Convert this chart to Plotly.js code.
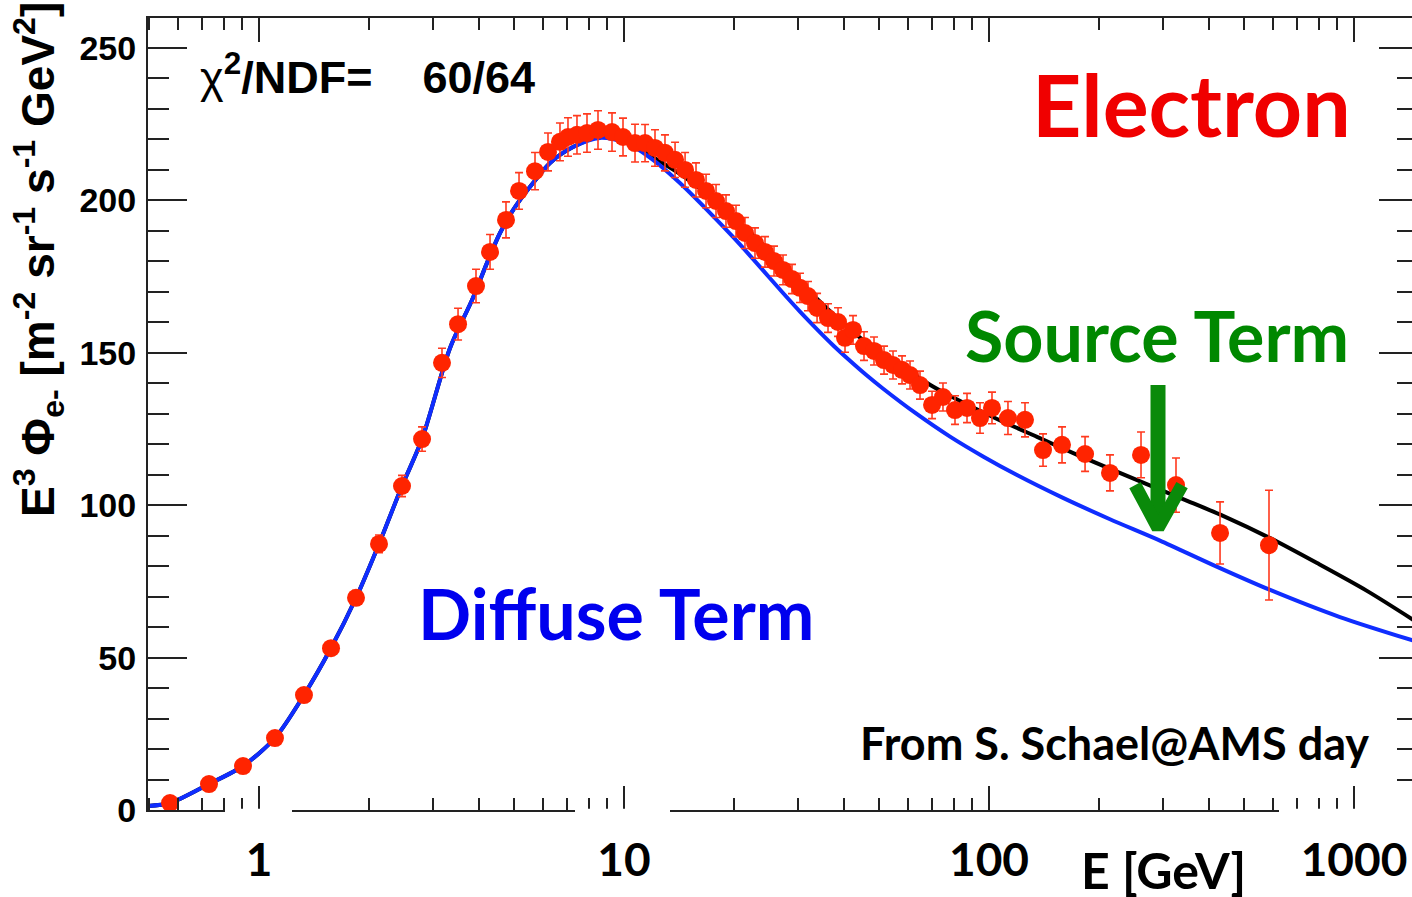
<!DOCTYPE html>
<html><head><meta charset="utf-8">
<script src="https://cdn.plot.ly/plotly-3.0.1.min.js"></script>
<style>html,body{margin:0;padding:0;overflow:hidden;background:#fff}#chart{width:1420px;height:897px}</style>
</head><body><div id="chart"></div>
<script>
// AMS electron data: E^3 * flux
const energy = [0.5705,0.7295,0.9042,1.106,1.328,1.575,1.844,2.132,2.465,2.797,3.172,3.510,3.931,4.295,4.750,5.157,5.704,6.191,6.677,7.023,7.433,7.918,8.487,9.271,9.937,10.72,11.42,12.16,12.95,13.80,14.70,15.75,16.78,17.87,19.03,20.27,21.45,22.85,24.34,25.76,27.27,28.86,30.35,31.92,33.80,36.22,38.58,40.32,42.41,45.45,48.41,51.57,54.58,57.77,60.76,64.71,69.81,74.80,80.69,87.04,94.48,101.9,112.7,125.5,140.6,158.5,183.3,214.5,260.9,325.3,429.5,584.9];
const flux = [2.3,8.5,14.4,23.6,37.7,53.1,69.6,87.3,106.3,121.7,146.7,159.4,171.9,183.1,193.6,203.1,209.6,215.9,219.2,220.8,221.5,222.1,223.1,222.4,220.8,218.8,218.8,217.2,215.6,213.3,210.0,206.7,203.1,199.8,196.5,193.2,189.3,186.0,183.1,180.1,177.2,174.2,171.3,168.6,164.7,161.4,160.1,154.9,157.5,152.2,150.6,147.6,146.0,144.4,142.7,139.4,132.9,135.5,131.2,131.9,128.6,131.9,128.6,128.0,118.1,119.8,116.8,110.6,116.5,106.6,90.9,86.9];
const fluxErr = [0.6,0.8,1.0,1.3,1.6,2.0,2.4,2.9,3.5,4.0,4.8,5.2,5.5,5.7,5.9,6.0,6.1,6.2,6.2,6.3,6.3,6.3,6.3,6.3,6.2,6.2,6.1,6.0,5.9,5.8,5.7,5.6,5.5,5.4,5.3,5.2,5.1,5.0,5.0,4.9,4.9,4.8,4.8,4.8,4.8,4.7,4.7,4.7,4.7,4.7,4.6,4.6,4.6,4.6,4.6,4.6,4.5,4.6,4.7,4.8,5.0,5.2,5.4,5.6,5.3,5.9,5.7,5.9,7.5,8.9,10.2,18.0];

// Diffuse term (blue curve)
const diffuseE = [0.4965,0.5705,0.7295,0.9042,1.106,1.328,1.575,1.844,2.132,2.465,2.797,3.337,3.834,4.214,4.574,5.028,5.633,6.27,7.25,8.60,10.19,12.01,14.23,16.88,19.89,23.58,27.27,30.35,33.80,37.38,41.6,46.03,51.2,63.1,78.2,96.3,119.3,159.5,214.5,294,416,589,915,1497];
const diffuseFlux = [1.31,2.30,8.53,14.44,23.62,37.73,53.15,69.55,87.27,106.3,121.7,151.6,167.3,179.5,189.3,197.8,205.7,212.3,217.5,220.5,218.8,213.3,205.7,196.9,188.0,178.2,169.6,163.5,157.7,152.5,147.4,142.8,138.3,130.1,122.5,116.0,109.9,102.4,95.4,88.4,80.1,72.2,63.3,55.1];

// Diffuse + source (black curve)
const totalE = [0.4965,0.5705,0.7295,0.9042,1.106,1.328,1.575,1.844,2.132,2.465,2.797,3.337,3.834,4.214,4.574,5.028,5.633,6.27,7.25,8.60,10.19,12.01,14.23,16.88,19.89,23.58,27.27,31.92,37.38,43.77,51.2,60.76,69.81,82.3,105.2,135.4,177.6,238.8,340,437.7,588.8,791.9,1085,1497];
const totalFlux = [1.31,2.30,8.53,14.44,23.62,37.73,53.15,69.55,87.27,106.3,121.7,151.6,167.3,179.5,189.3,197.8,205.7,212.3,217.5,220.8,219.2,214.2,208.7,202.1,194.6,186.4,179.1,170.6,162.7,155.5,149.3,143.7,139.1,134.5,128.3,122.4,116.1,109.6,102.0,96.5,89.2,81.0,71.9,61.4];

// Source-term arrow (green)
const arrowShaftE = [290.4, 290.4];
const arrowShaftFlux = [139.4, 96];
const arrowHeadE = [251.2, 290.4, 338];
const arrowHeadFlux = [106.6, 92.5, 106.6];

const xTickVals = [1, 10, 100, 1000];
const xTickText = ['<b>1</b>', '<b>10</b>', '<b>100</b>', '<b>1000</b>'];
const yTickVals = [0, 50, 100, 150, 200, 250];

const PL = 148, PW = 1270, PB = 810, PH = 792;
const px = v => (v - PL) / PW;
const py = v => (PB - v) / PH;

const traces = [
  {x: totalE, y: totalFlux, type: 'scatter', mode: 'lines', line: {color: '#000000', width: 4, shape: 'spline', smoothing: 0.8}, hoverinfo: 'skip'},
  {x: diffuseE, y: diffuseFlux, type: 'scatter', mode: 'lines', line: {color: '#0f2dff', width: 4, shape: 'spline', smoothing: 0.8}, hoverinfo: 'skip'},
  {x: energy, y: flux, type: 'scatter', mode: 'markers',
   marker: {color: '#ff2400', size: 18, line: {width: 0}},
   error_y: {type: 'data', array: fluxErr, visible: true, color: '#ff3a1f', thickness: 1.6, width: 4}},
  {x: arrowShaftE, y: arrowShaftFlux, type: 'scatter', mode: 'lines', line: {color: '#0a8a0a', width: 15}, hoverinfo: 'skip'},
  {x: arrowHeadE, y: arrowHeadFlux, type: 'scatter', mode: 'lines', line: {color: '#0a8a0a', width: 13}, hoverinfo: 'skip'}
];

const axisCommon = {showline: true, linecolor: '#222', linewidth: 2, mirror: 'allticks', ticks: 'inside', tickcolor: '#222', tickwidth: 2, showgrid: false, zeroline: false};

const layout = {
  width: 1420, height: 897,
  margin: {l: PL, r: 2, t: 18, b: 87, pad: 0},
  paper_bgcolor: '#ffffff', plot_bgcolor: '#ffffff',
  showlegend: false,
  xaxis: Object.assign({}, axisCommon, {
    type: 'log', range: [-0.3041, 3.1753],
    ticklen: 24, tickmode: 'array', tickvals: xTickVals, ticktext: xTickText,
    tickfont: {family: 'Lato', size: 46, color: '#000'}, ticklabelstandoff: 9,
    minor: {ticks: 'inside', ticklen: 12, tickwidth: 2, tickcolor: '#222', dtick: 'D1'}
  }),
  yaxis: Object.assign({}, axisCommon, {
    range: [0, 259.84], ticklen: 39, tickmode: 'array', tickvals: yTickVals,
    tickfont: {family: 'Liberation Sans', size: 34, color: '#000', weight: 'bold'}, ticklabelstandoff: 3,
    minor: {ticks: 'inside', ticklen: 21, tickwidth: 2, tickcolor: '#222', dtick: 10, tick0: 0}
  }),
  shapes: [
    {type: 'rect', xref: 'paper', yref: 'paper', x0: px(225), x1: px(292), y0: py(815), y1: py(808.8), fillcolor: '#fff', line: {width: 0}, layer: 'above'},
    {type: 'rect', xref: 'paper', yref: 'paper', x0: px(575), x1: px(670), y0: py(815), y1: py(808.8), fillcolor: '#fff', line: {width: 0}, layer: 'above'},
    {type: 'rect', xref: 'paper', yref: 'paper', x0: px(1279), x1: px(1425), y0: py(815), y1: py(808.8), fillcolor: '#fff', line: {width: 0}, layer: 'above'}
  ],
  annotations: [
    {xref: 'paper', yref: 'paper', x: px(1191), y: py(103), text: '<b>Electron</b>', showarrow: false, xanchor: 'center', yanchor: 'middle',
     font: {family: 'Lato', size: 86, color: '#f00000'}},
    {xref: 'paper', yref: 'paper', x: px(1157), y: py(335), text: '<b>Source Term</b>', showarrow: false, xanchor: 'center', yanchor: 'middle',
     font: {family: 'Lato', size: 70, color: '#008800'}},
    {xref: 'paper', yref: 'paper', x: px(616), y: py(613), text: '<b>Diffuse Term</b>', showarrow: false, xanchor: 'center', yanchor: 'middle',
     font: {family: 'Lato', size: 70, color: '#0000ee'}},
    {xref: 'paper', yref: 'paper', x: px(1114), y: py(743), text: '<b>From S. Schael@AMS day</b>', showarrow: false, xanchor: 'center', yanchor: 'middle',
     font: {family: 'Lato', size: 45, color: '#000'}},
    {xref: 'paper', yref: 'paper', x: px(1163), y: py(870), text: '<b>E [GeV]</b>', showarrow: false, xanchor: 'center', yanchor: 'middle',
     font: {family: 'Lato', size: 50, color: '#000'}},
    {xref: 'paper', yref: 'paper', x: px(198), y: py(74), text: 'χ<sup><b>2</b></sup><b>/NDF=&nbsp;&nbsp;&nbsp;&nbsp;60/64</b>', showarrow: false, xanchor: 'left', yanchor: 'middle',
     font: {family: 'Liberation Sans', size: 45, color: '#000'}},
    {xref: 'paper', yref: 'paper', x: px(38), y: py(260), text: '<b>E<sup>3</sup> Φ<sub>e-</sub> [m<sup>-2</sup> sr<sup>-1</sup> s<sup>-1</sup> GeV<sup>2</sup>]</b>', showarrow: false,
     textangle: -90, xanchor: 'center', yanchor: 'middle', font: {family: 'Liberation Sans', size: 46, color: '#000'}}
  ]
};

Plotly.newPlot('chart', traces, layout, {staticPlot: true, displayModeBar: false});
</script>
</body></html>
